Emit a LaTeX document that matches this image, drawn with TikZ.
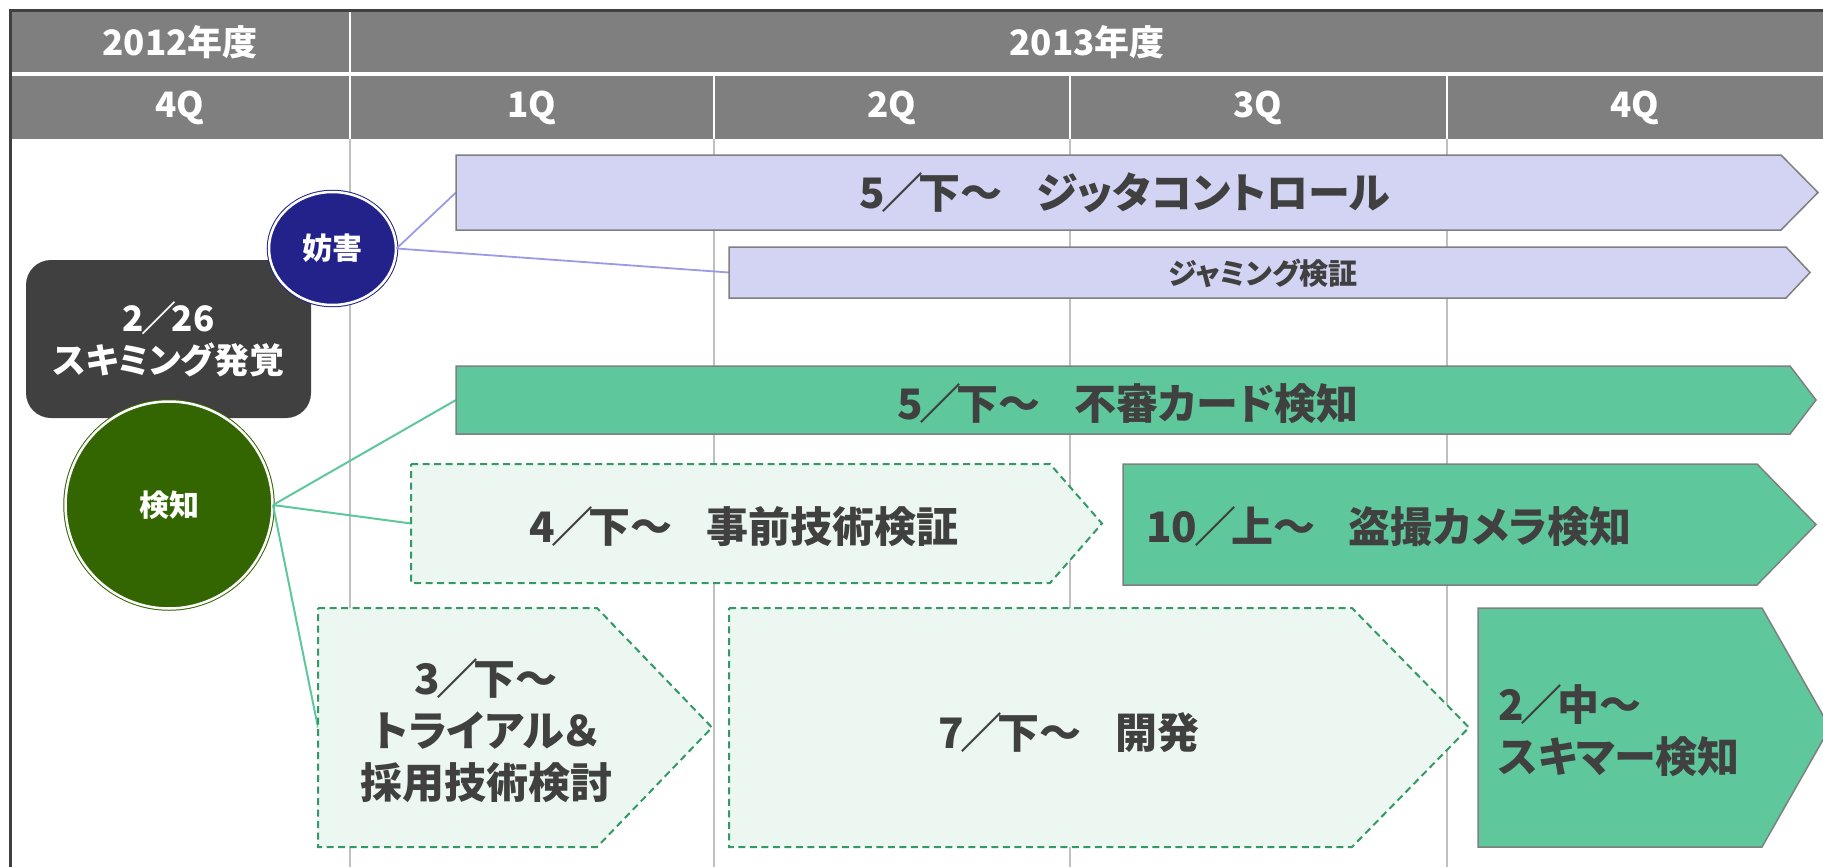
\documentclass[tikz,border=0pt]{standalone}
\usepackage{fontspec}
\setmainfont{Noto Sans CJK JP}[BoldFont={Noto Sans CJK JP Black},RawFeature=+palt]
\usetikzlibrary{shapes.geometric,calc}
\definecolor{hdr}{HTML}{7F7F7F}
\definecolor{frm}{HTML}{404040}
\definecolor{grd}{HTML}{BFBFBF}
\definecolor{txtg}{HTML}{404040}
\definecolor{lav}{HTML}{D3D3F3}
\definecolor{lavline}{HTML}{9A9AE8}
\definecolor{navy}{HTML}{22228A}
\definecolor{midg}{HTML}{5EC89C}
\definecolor{lightg}{HTML}{EDF7F1}
\definecolor{dashg}{HTML}{339966}
\definecolor{darkg}{HTML}{336600}
\definecolor{bord}{HTML}{7F7F7F}
\newcommand\mypent[3]{\draw[#1] (#2.north west) -- (#2.north east) -- ([xshift=#3]#2.east) -- (#2.south east) -- (#2.south west) -- cycle;}
\newcommand\sls{\hspace{-0.08em}／\hspace{-0.12em}}
\newcommand\gap{\hspace{0.8em}}
\begin{document}
\begin{tikzpicture}[x=1pt,y=-1pt,
  hdrtxt/.style={text=white,font=\bfseries\fontsize{35}{40}\selectfont,inner sep=0},
  area/.style={rectangle,inner sep=0,outer sep=0,draw=none},
  bigtxt/.style={text=txtg,font=\bfseries\fontsize{42}{52}\selectfont,align=center,inner sep=0},
  smalltxt/.style={text=txtg,font=\bfseries\fontsize{29}{34}\selectfont,inner sep=0},
  lavbar/.style={fill=lav,draw=bord,line width=1.5pt},
  grnbar/.style={fill=midg,draw=bord,line width=1.5pt},
  dashbar/.style={fill=lightg,draw=dashg,line width=2pt,dash pattern=on 7pt off 4.5pt},
  lavconn/.style={draw=lavline,line width=1.8pt},
  grnconn/.style={draw=midg,line width=2pt}]
\useasboundingbox (0,0) rectangle (1823,867);
% header
\fill[hdr] (12,12) rectangle (1823,72.5);
\fill[hdr] (12,76) rectangle (1823,139);
\draw[white,line width=2.5pt] (350,12) -- (350,139);
\foreach \x in {714,1070,1447} \draw[white,line width=2.5pt] (\x,76) -- (\x,139);
\draw[frm,line width=3pt] (10.5,867) -- (10.5,10.5) -- (1823,10.5);
% grid lines
\foreach \x in {350,714,1070,1447} \draw[grd,line width=2.5pt] (\x,139) -- (\x,867);
% header texts
\node[hdrtxt] (y2012) at (180,42) {2012年度};
\node[hdrtxt] (y2013) at (1087,42) {2013年度};
\node[hdrtxt] (q4a) at (180,108) {4Q};
\node[hdrtxt] (q1) at (532,108) {1Q};
\node[hdrtxt] (q2) at (892,108) {2Q};
\node[hdrtxt] (q3) at (1258,108) {3Q};
\node[hdrtxt] (q4b) at (1635,108) {4Q};
% dark box
\node[rectangle,rounded corners=25pt,fill=frm,minimum width=285pt,minimum height=158pt,inner sep=0,
  text=white,align=center,font=\bfseries\fontsize{35}{42}\selectfont] (found) at (168.5,339) {2\sls 26\\スキミング発覚};
% bar areas
\node[area,minimum width=1325pt,minimum height=75pt] (jit) at (1118.5,192.5) {};
\node[area,minimum width=1057pt,minimum height=51pt] (jam) at (1257.5,272.5) {};
\node[area,minimum width=1334pt,minimum height=68pt] (fus) at (1123,400) {};
\node[area,minimum width=639pt,minimum height=119pt] (jiz) at (730.5,523.5) {};
\node[area,minimum width=634pt,minimum height=121pt] (tou) at (1440,524.5) {};
\node[area,minimum width=279pt,minimum height=239pt] (tri) at (457.5,727.5) {};
\node[area,minimum width=623pt,minimum height=239pt] (kai) at (1040.5,727.5) {};
\node[area,minimum width=284pt,minimum height=239pt] (ski) at (1620,727.5) {};
% circles
\node[ellipse,minimum width=127pt,minimum height=113pt,inner sep=0,fill=navy,draw=navy,line width=1pt,double=white,double distance=2.5pt,
  text=white,font=\bfseries\fontsize{30}{34}\selectfont] (bou) at (332.5,248.5) {妨害};
\node[circle,minimum size=207pt,inner sep=0,fill=darkg,draw=darkg,line width=1pt,double=white,double distance=2.5pt,
  text=white,font=\bfseries\fontsize{30}{34}\selectfont] (ken) at (169,505) {検知};
% connectors
\draw[lavconn] (bou.east) -- (jit.west);
\draw[lavconn] (bou.east) -- (jam.west);
\draw[grnconn] (ken.east) -- (fus.west);
\draw[grnconn] (ken.east) -- (jiz.west);
\draw[grnconn] (ken.east) -- (tri.west);
% bars
\mypent{lavbar}{jit}{37pt}
\mypent{lavbar}{jam}{24pt}
\mypent{grnbar}{fus}{26pt}
\mypent{dashbar}{jiz}{52pt}
\mypent{grnbar}{tou}{59pt}
\mypent{dashbar}{tri}{115pt}
\mypent{dashbar}{kai}{117pt}
\mypent{grnbar}{ski}{68pt}
% bar texts
\node[bigtxt] (jit-t) at (1125,193) {5\sls 下～\gap ジッタコントロール};
\node[smalltxt] (jam-t) at (1263,273) {ジャミング検証};
\node[bigtxt] (fus-t) at (1128,404) {5\sls 下～\gap 不審カード検知};
\node[bigtxt] (jiz-t) at (744,527) {4\sls 下～\gap 事前技術検証};
\node[bigtxt,anchor=west] (tou-t) at (1146,527) {10\sls 上～\gap 盗撮カメラ検知};
\node[bigtxt] (tri-t) at (486,731) {3\sls 下～\\トライアル＆\\採用技術検討};
\node[bigtxt] (kai-t) at (1069,733) {7\sls 下～\gap 開発};
\node[bigtxt,anchor=west,align=left] (ski-t) at (1498,731) {2\sls 中～\\スキマー検知};
\end{tikzpicture}
\end{document}
